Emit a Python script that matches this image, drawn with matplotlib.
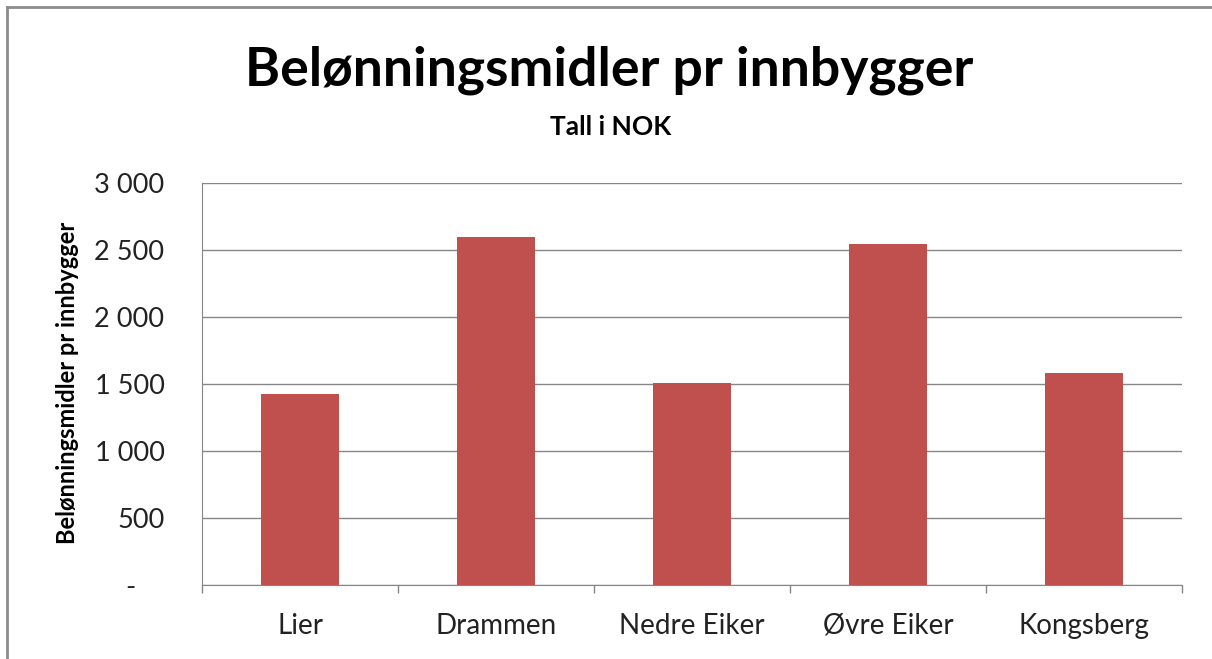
import matplotlib
matplotlib.use("Agg")
import matplotlib.pyplot as plt
from matplotlib.lines import Line2D
from matplotlib.ticker import FixedLocator, NullFormatter

categories = ["Lier", "Drammen", "Nedre Eiker", "Øvre Eiker", "Kongsberg"]
values = [1425, 2597, 1507, 2545, 1582]
yticks = [0, 500, 1000, 1500, 2000, 2500, 3000]
ytick_labels = ["-    ", "500", "1 000", "1 500", "2 000", "2 500", "3 000"]

title = "Belønningsmidler pr innbygger"
subtitle = "Tall i NOK"
ylabel = "Belønningsmidler pr innbygger"

plt.rcParams['font.family'] = ['Lato', 'DejaVu Sans']

W, H = 1212, 659
fig = plt.figure(figsize=(W / 100, H / 100), dpi=100)
fig.patch.set_facecolor("white")

# outer frame (left and top edges visible)
fig.add_artist(Line2D([7 / W, 7 / W], [0, 1 - 7 / H], transform=fig.transFigure, color="#8c8c8c", lw=2))
fig.add_artist(Line2D([7 / W, 1], [1 - 7 / H, 1 - 7 / H], transform=fig.transFigure, color="#8c8c8c", lw=2))

left, right, top, bottom = 202, 1182, 183, 585
ax = fig.add_axes([left / W, 1 - bottom / H, (right - left) / W, (bottom - top) / H])

x = list(range(len(categories)))
ax.bar(x, values, width=0.4, color="#C0504D", zorder=3)

ax.set_xlim(-0.5, len(categories) - 0.5)
ax.set_ylim(0, 3000)
ax.set_yticks(yticks)
ax.set_yticklabels(ytick_labels, fontsize=19.5, color="#222222")
ax.tick_params(axis="y", length=0, pad=27)
for lbl in ax.get_yticklabels():
    lbl.set_horizontalalignment("right")

ax.set_xticks(x)
ax.set_xticklabels(categories, fontsize=20, color="#222222")
ax.tick_params(axis="x", which="major", length=0, pad=20)
ax.xaxis.set_minor_locator(FixedLocator([i - 0.5 for i in range(len(categories) + 1)]))
ax.xaxis.set_minor_formatter(NullFormatter())
ax.tick_params(axis="x", which="minor", length=6, color="#868686", width=1)

ax.grid(axis="y", color="#868686", lw=1, zorder=0)
for s in ["top", "right"]:
    ax.spines[s].set_visible(False)
ax.spines["left"].set_color("#868686")
ax.spines["bottom"].set_color("#868686")

ax.set_ylabel(ylabel, fontsize=17, fontweight="bold")
ax.yaxis.set_label_coords(-(left - 79) / (right - left), (bottom - 383) / (bottom - top))

fig.text(609 / W, 1 - 70 / H, title, ha="center", va="center", fontsize=38.5, fontweight="bold")
fig.text(611 / W, 1 - 127 / H, subtitle, ha="center", va="center", fontsize=19, fontweight="bold")

fig.savefig("out.png", dpi=100)
